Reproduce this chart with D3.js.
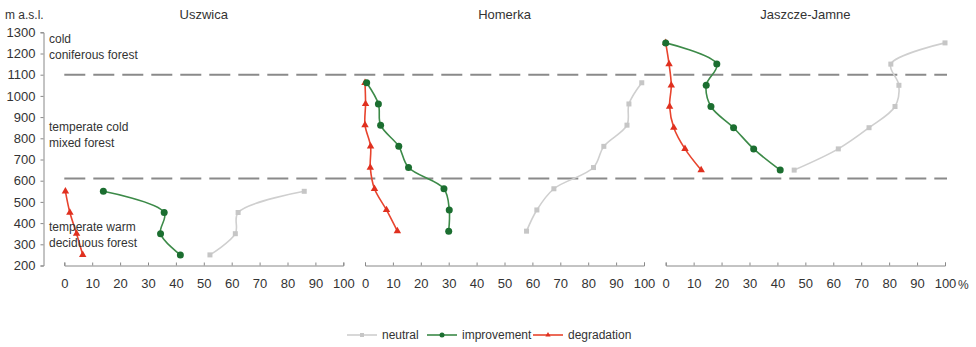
<!DOCTYPE html>
<html>
<head>
<meta charset="utf-8">
<script src="https://cdn.jsdelivr.net/npm/d3@7"></script>
<style>
  body { margin: 0; background: #fff; }
  svg { font-family: "Liberation Sans", Arial, sans-serif; }
</style>
</head>
<body>
<div id="chart"></div>
<script>
// Catchments (panels)
const catchments = ["Uszwica", "Homerka", "Jaszcze-Jamne"];

// Altitudes (m a.s.l.) of the points in each panel
const altUszwica = [550, 450, 350, 250];
const altHomerka = [1062, 962, 862, 762, 662, 562, 462, 362];
const altJaszcze = [1250, 1150, 1050, 950, 850, 750, 650];

// Share of area (%) per series
const neutralUszwica = [86, 62.3, 61.3, 52.2];
const improvementUszwica = [14, 35.8, 34.5, 41.6];
const degradationUszwica = [0.4, 2, 4.4, 6.6];

const neutralHomerka = [99.2, 94.6, 93.9, 85.6, 81.9, 67.7, 61.6, 57.9];
const improvementHomerka = [0.6, 4.8, 5.6, 12.1, 15.6, 28.3, 30.2, 30];
const degradationHomerka = [0, 0.2, 0, 2, 1.9, 3.4, 7.7, 11.6];

const neutralJaszcze = [100, 80.6, 83.5, 82.1, 72.8, 61.8, 46];
const improvementJaszcze = [0, 18.3, 14.5, 16.2, 24.3, 31.5, 41];
const degradationJaszcze = [0, 1.2, 2, 1.4, 2.9, 6.9, 12.7];

// Vegetation belt borders and labels
const beltBorders = [1100, 610];
const beltLabels = [
  { lines: ["cold", "coniferous forest"], alt: 1250 },
  { lines: ["temperate cold", "mixed forest"], alt: 835 },
  { lines: ["temperate warm", "deciduous forest"], alt: 365 }
];

const yTicks = d3.range(200, 1301, 100);
const xTicks = d3.range(0, 101, 10);
const seriesNames = ["neutral", "improvement", "degradation"];
// improvement markers sit on top of degradation ones
const drawOrder = [0, 2, 1];

const panels = [
  { alt: altUszwica, values: [neutralUszwica, improvementUszwica, degradationUszwica] },
  { alt: altHomerka, values: [neutralHomerka, improvementHomerka, degradationHomerka] },
  { alt: altJaszcze, values: [neutralJaszcze, improvementJaszcze, degradationJaszcze] }
];

const colors = {
  neutral: { line: "#cfcfcf", mark: "#c6c6c6" },
  improvement: { line: "#3c8a48", mark: "#1b6e30" },
  degradation: { line: "#e8442e", mark: "#e0301f" }
};

const width = 976, height = 347;
const svg = d3.select("#chart").append("svg")
  .attr("width", width)
  .attr("height", height);

// Y scale (altitude)
const y = d3.scaleLinear().domain([200, 1300]).range([265.5, 32.3]);

// X scales, one per panel
const panelRanges = [[64.3, 343.3], [365, 644], [665.7, 945]];
const xScales = panelRanges.map(r => d3.scaleLinear().domain([0, 100]).range(r));

// Y axis
const yAxis = svg.append("g")
  .attr("transform", "translate(43.5,0)")
  .call(d3.axisLeft(y).tickValues(yTicks).tickFormat(d3.format("d"))
    .tickSize(3).tickPadding(5).tickSizeOuter(3));
yAxis.select(".domain").attr("stroke", "#888");
yAxis.selectAll(".tick line").attr("stroke", "#888");
yAxis.selectAll("text").style("font-size", "13px").attr("fill", "#333");

svg.append("text")
  .attr("x", 5).attr("y", 19)
  .style("font-size", "12px").attr("fill", "#333")
  .text("m a.s.l.");

// X axes
xScales.forEach((x, i) => {
  const g = svg.append("g")
    .attr("transform", `translate(0,${y(200)})`)
    .call(d3.axisBottom(x).tickValues(xTicks).tickSizeInner(-3).tickSizeOuter(-3).tickPadding(13));
  g.select(".domain").attr("stroke", "#888");
  g.selectAll(".tick line").attr("stroke", "#888");
  g.selectAll("text").style("font-size", "13px").attr("fill", "#333");

  svg.append("text")
    .attr("x", (x.range()[0] + x.range()[1]) / 2)
    .attr("y", 19)
    .attr("text-anchor", "middle")
    .style("font-size", "13px").attr("fill", "#333")
    .text(catchments[i]);
});

svg.append("text")
  .attr("x", xScales[2](100) + 13).attr("y", y(200) + 23)
  .style("font-size", "12px").attr("fill", "#333")
  .text("%");

// Belt borders
svg.selectAll(".belt")
  .data(beltBorders)
  .enter().append("line")
    .attr("class", "belt")
    .attr("x1", xScales[0](0))
    .attr("x2", xScales[2](100) + 2)
    .attr("y1", d => y(d))
    .attr("y2", d => y(d))
    .attr("stroke", "#8a8a8a")
    .attr("stroke-width", 2)
    .attr("stroke-dasharray", "21,8");

// Series
const line = d3.line().curve(d3.curveCatmullRom.alpha(0.5));
panels.forEach((p, i) => {
  const x = xScales[i];
  drawOrder.forEach(s => {
    const vals = p.values[s];
    const name = seriesNames[s];
    const pts = vals.map((v, k) => [x(v), y(p.alt[k])]);
    svg.append("path")
      .attr("d", line(pts))
      .attr("fill", "none")
      .attr("stroke", colors[name].line)
      .attr("stroke-width", 1.6);

    const marks = svg.append("g");
    pts.forEach(pt => {
      if (name === "neutral") {
        marks.append("rect")
          .attr("x", pt[0] - 2.5).attr("y", pt[1] - 2.5)
          .attr("width", 5).attr("height", 5)
          .attr("fill", colors[name].mark);
      } else if (name === "improvement") {
        marks.append("circle")
          .attr("cx", pt[0]).attr("cy", pt[1]).attr("r", 3.5)
          .attr("fill", colors[name].mark);
      } else {
        marks.append("path")
          .attr("d", d3.symbol(d3.symbolTriangle, 24)())
          .attr("transform", `translate(${pt[0]},${pt[1]})`)
          .attr("fill", colors[name].mark);
      }
    });
  });
});

// Belt labels
beltLabels.forEach(b => {
  const t = svg.append("text")
    .attr("x", 49)
    .attr("y", y(b.alt))
    .style("font-size", "12px").attr("fill", "#333");
  b.lines.forEach((l, k) => {
    t.append("tspan").attr("x", 49).attr("dy", k === 0 ? 0 : 16).text(l);
  });
});

// Legend
const legendItems = [
  { name: "neutral", x: 347 },
  { name: "improvement", x: 427 },
  { name: "degradation", x: 533 }
];
const legendY = 335;
legendItems.forEach(it => {
  svg.append("line")
    .attr("x1", it.x).attr("x2", it.x + 30)
    .attr("y1", legendY).attr("y2", legendY)
    .attr("stroke", colors[it.name].line).attr("stroke-width", 1.6);
  const cx = it.x + 15;
  if (it.name === "neutral") {
    svg.append("rect").attr("x", cx - 2).attr("y", legendY - 2).attr("width", 4).attr("height", 4)
      .attr("fill", colors[it.name].mark);
  } else if (it.name === "improvement") {
    svg.append("circle").attr("cx", cx).attr("cy", legendY).attr("r", 2.5)
      .attr("fill", colors[it.name].mark);
  } else {
    svg.append("path").attr("d", d3.symbol(d3.symbolTriangle, 12)())
      .attr("transform", `translate(${cx},${legendY})`)
      .attr("fill", colors[it.name].mark);
  }
  svg.append("text")
    .attr("x", it.x + 35).attr("y", legendY + 4)
    .style("font-size", "12px").attr("fill", "#333")
    .text(it.name);
});
</script>
</body>
</html>
